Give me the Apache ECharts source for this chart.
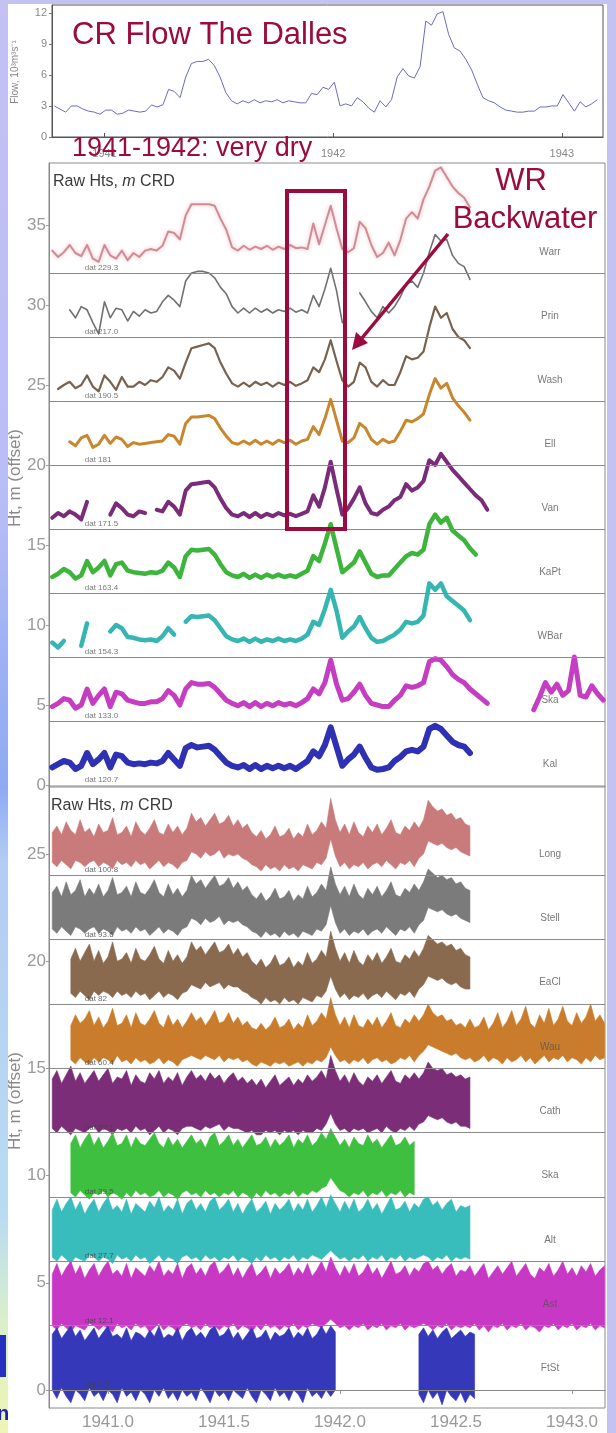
<!DOCTYPE html>
<html><head><meta charset="utf-8">
<script src="https://cdn.jsdelivr.net/npm/echarts@6/dist/echarts.min.js"></script>
<style>html,body{margin:0;padding:0;background:#c4c1f3;overflow:hidden}#c{width:616px;height:1433px}</style>
</head><body><div id="c"></div>
<script>
// ---------- DATA ----------
// Top panel: Columbia River flow at The Dalles (10^3 m^3/s), sampled every 0.025 yr
const flowStart = 1940.78, flowStep = 0.025;
const flowValues = [3.0,2.7,2.4,3.0,3.0,2.7,2.5,2.4,2.2,2.6,2.6,2.2,2.3,2.6,2.5,2.4,2.5,3.1,2.9,3.1,4.6,4.4,3.8,5.8,7.1,7.3,7.3,7.5,6.9,5.8,4.3,3.5,3.2,3.5,3.3,3.6,3.3,3.5,3.4,3.6,3.3,3.5,3.4,3.3,3.3,4.2,4.1,4.8,4.6,5.3,3.0,3.2,3.0,3.8,3.4,2.8,2.4,3.5,2.9,3.6,5.8,6.6,5.9,5.7,6.8,11.2,10.8,11.9,12.1,9.9,8.6,8.3,7.5,6.5,5.1,3.8,3.5,3.3,2.9,2.6,2.5,2.4,2.4,2.5,2.5,2.9,2.9,3.0,3.0,4.1,3.3,2.5,3.4,2.9,3.2,3.6];
const flowTicks = [1941, 1942, 1943];
const flowYTicks = [0, 3, 6, 9, 12];

// Middle panel: heights (m, offset), sampled every 0.025 yr
const midStart = 1940.76, midStep = 0.025;
const warr = [33.4,33.0,33.3,33.75,33.25,33.05,33.75,32.9,32.7,33.75,33.1,32.9,33.4,32.8,33.25,33.0,33.4,33.5,33.4,33.7,34.6,34.5,34.1,35.6,36.3,36.3,36.3,36.3,36.2,35.4,34.7,33.6,33.4,33.7,33.45,33.65,33.5,33.7,33.45,33.65,33.5,33.75,33.55,33.6,33.5,35.1,33.8,35.0,36.2,34.8,33.5,33.3,33.55,35.2,34.8,33.75,33.0,33.25,33.9,33.1,34.06,35.4,35.8,35.4,36.6,37.4,38.4,38.6,38.0,37.4,37.0,36.7,36.1];
const prin = [null,null,null,29.7,29.2,29.9,29.7,28.9,28.2,30.2,29.2,29.8,29.7,29.0,29.6,29.3,29.7,29.5,29.6,30.2,30.6,30.3,29.9,31.5,32.0,32.1,32.1,32.0,31.7,31.1,30.7,29.9,29.5,29.8,29.5,29.8,29.55,29.75,29.5,29.7,29.6,29.8,29.55,29.7,29.5,30.6,29.9,31.0,32.3,30.9,28.9,null,null,30.75,30.2,29.6,29.2,29.9,29.5,29.9,30.5,31.3,31.5,31.1,32.0,33.3,34.4,34.0,34.1,33.1,32.6,32.4,31.6];
const wash = [null,24.75,25.0,25.2,24.8,25.0,25.6,24.9,24.6,25.6,25.2,24.7,25.5,24.9,24.9,25.2,25.0,25.3,25.2,25.5,26.1,25.9,25.4,26.4,27.3,27.4,27.5,27.6,27.3,26.4,25.7,25.1,24.9,25.15,24.9,25.2,25.0,25.15,24.9,25.15,25.0,25.2,24.95,25.1,25.3,26.1,25.8,26.6,27.8,26.5,25.3,24.9,25.2,26.4,26.1,25.2,24.9,25.3,25.0,25.0,25.8,26.8,26.6,26.7,27.1,28.6,29.9,29.2,29.5,28.5,28.0,27.8,27.3];
const ell = [null,null,null,21.45,21.2,21.7,21.85,21.1,21.3,21.85,21.35,21.75,21.6,21.15,21.4,21.3,21.35,21.4,21.45,21.5,21.9,21.8,21.3,22.6,23.0,23.0,23.05,23.1,22.9,22.3,21.8,21.4,21.3,21.5,21.3,21.55,21.3,21.5,21.3,21.55,21.4,21.55,21.3,21.5,21.6,22.4,21.9,22.9,24.1,22.8,21.5,21.4,21.7,22.6,22.3,21.6,21.3,21.6,21.4,21.5,22.1,22.8,22.7,22.9,23.2,24.4,25.4,24.8,25.1,24.2,23.7,23.3,22.8];
const van = [16.7,17.0,16.8,17.1,16.9,16.6,17.7,null,null,null,16.9,17.6,17.3,16.9,16.8,17.1,17.0,null,17.2,17.1,17.7,17.4,16.9,18.4,18.8,18.85,18.9,18.95,18.6,17.9,17.3,16.9,16.8,17.0,16.75,17.0,16.75,16.95,16.8,17.0,16.85,16.95,16.8,16.95,17.1,18.1,17.4,18.6,20.2,18.5,16.9,17.3,17.9,18.6,17.6,17.0,16.9,17.2,17.4,17.8,18.0,18.8,18.4,18.6,19.0,20.3,20.0,20.7,20.2,19.7,19.3,18.9,18.5,18.1,17.8,17.2];
const kapt = [13.0,13.2,13.5,13.3,12.9,13.1,14.0,13.3,13.6,14.0,13.1,13.8,13.9,13.4,13.3,13.25,13.2,13.3,13.25,13.4,13.9,13.6,13.0,14.3,14.7,14.65,14.7,14.75,14.4,13.8,13.3,13.1,13.0,13.2,12.95,13.15,12.95,13.15,13.0,13.15,13.0,13.1,13.0,13.2,13.4,14.3,14.0,15.1,16.3,14.8,13.3,13.6,13.9,14.6,13.9,13.2,13.0,13.1,13.1,13.5,13.9,14.3,14.5,14.4,14.7,16.3,16.9,16.4,16.7,15.9,15.6,15.3,14.8,14.4];
const wbar = [8.9,8.6,9.0,null,null,8.7,10.1,null,null,null,9.6,10.0,9.8,9.25,9.2,9.1,9.05,9.1,9.0,9.3,9.8,9.4,null,10.2,10.55,10.5,10.55,10.6,10.3,9.8,9.3,9.1,9.0,9.15,8.95,9.15,8.95,9.1,9.0,9.15,9.0,9.1,9.0,9.15,9.4,10.2,10.0,11.0,12.2,10.9,9.2,9.6,9.9,10.5,9.8,9.2,8.95,9.0,9.2,9.4,9.7,10.2,10.1,10.2,10.6,12.6,12.2,12.6,11.8,11.5,11.2,10.9,10.3];
const skaMid = [4.9,5.1,5.4,5.3,4.8,5.0,6.0,5.1,5.6,6.0,4.9,5.8,5.7,5.3,5.2,5.1,5.1,5.2,5.2,5.4,5.9,5.6,5.0,6.0,6.4,6.3,6.3,6.35,6.1,5.7,5.3,5.1,4.95,5.15,4.9,5.15,4.9,5.1,4.95,5.15,5.0,5.1,4.95,5.15,5.4,6.0,5.7,6.4,7.8,6.3,5.3,5.4,5.8,6.3,5.6,5.1,5.0,4.9,4.9,5.3,5.6,6.2,6.1,6.2,6.4,7.7,7.9,7.8,7.4,6.9,6.6,6.4,6.0,5.7,5.4,5.1,null,null,null,null,null,null,null,4.7,5.5,6.4,5.8,6.3,5.6,5.9,8.0,5.6,5.5,6.2,5.7,5.3];
const kal = [1.1,1.3,1.5,1.4,1.0,1.2,2.0,1.3,1.6,2.0,1.1,1.9,1.8,1.4,1.3,1.35,1.3,1.4,1.35,1.5,2.0,1.6,1.2,2.3,2.5,2.35,2.4,2.45,2.2,1.8,1.4,1.2,1.1,1.25,1.0,1.25,1.0,1.2,1.05,1.2,1.05,1.2,1.0,1.25,1.5,2.1,1.8,2.5,3.6,2.4,1.2,1.6,1.9,2.4,1.7,1.1,0.95,1.0,1.1,1.5,1.75,2.1,2.2,2.1,2.4,3.5,3.7,3.5,3.1,2.7,2.5,2.4,2.0];
const midNames = ['Warr','Prin','Wash','Ell','Van','KaPt','WBar','Ska','Kal'];
const midDatums = ['dat 229.3','dat 217.0','dat 190.5','dat 181','dat 171.5','dat 163.4','dat 154.3','dat 133.0','dat 120.7'];
const midBase = [32,28,24,20,16,12,8,4,0];
const midYTicks = [0,5,10,15,20,25,30,35];

// Bottom panel: raw tidal heights, upper / lower envelopes, sampled every 0.02 yr
const lowStart = 1940.76, lowStep = 0.02;
const longHi = [26.0,26.3,25.9,26.5,26.1,25.9,26.6,26.0,26.2,25.8, 26.4,26.0,26.1,26.7,25.9,26.0,26.3,25.8,26.5,26.1, 25.9,26.2,26.6,26.0,25.9,26.4,26.0,26.3,25.9,26.2, 26.9,26.5,26.7,26.3,26.6,26.9,26.4,26.5,26.8,26.3, 26.6,26.2,26.4,26.0,25.8,26.1,25.7,25.9,26.3,25.8, 25.9,26.2,25.7,26.0,25.8,26.4,25.9,26.1,26.5,26.2, 27.6,26.6,26.0,26.4,25.9,26.5,26.0,25.8,26.3,26.0, 26.4,25.9,26.2,26.6,26.0,25.9,26.3,26.1,26.5,26.2, 26.6,27.5,27.2,27.0,27.1,26.8,26.9,26.6,26.7,26.4, 26.3];
const longLo = [24.6,24.4,24.7,24.5,24.3,24.7,24.6,24.4,24.6,24.7, 24.4,24.6,24.5,24.3,24.7,24.5,24.6,24.4,24.7,24.5, 24.6,24.3,24.5,24.7,24.4,24.6,24.5,24.3,24.6,24.7, 25.1,25.0,24.8,25.1,24.9,25.0,25.2,24.8,25.0,24.9, 25.0,24.8,24.7,24.5,24.4,24.2,24.5,24.3,24.4,24.2, 24.5,24.3,24.4,24.2,24.5,24.4,24.3,24.6,24.5,24.8, 25.7,24.9,24.4,24.6,24.3,24.5,24.4,24.6,24.3,24.5, 24.6,24.4,24.7,24.5,24.3,24.6,24.5,24.7,24.4,24.8, 25.0,25.6,25.5,25.4,25.5,25.3,25.2,25.3,25.1,25.0, 24.9];
const stellHi = [23.2,23.5,23.0,23.7,23.1,23.3,23.8,23.0,23.4,23.1, 23.6,23.0,23.3,23.9,23.1,23.2,23.5,23.0,23.7,23.2, 23.1,23.4,23.8,23.2,23.0,23.6,23.1,23.4,23.0,23.3, 24.0,23.6,23.8,23.4,23.7,24.0,23.5,23.6,23.9,23.4, 23.7,23.3,23.5,23.1,22.9,23.2,22.8,23.0,23.4,22.9, 23.0,23.3,22.8,23.1,22.9,23.5,23.0,23.2,23.6,23.3, 24.4,23.6,23.1,23.5,23.0,23.6,23.1,22.9,23.4,23.1, 23.5,23.0,23.3,23.7,23.1,23.0,23.4,23.2,23.6,23.3, 23.7,24.3,24.1,23.9,24.0,23.8,23.9,23.6,23.7,23.4, 23.3];
const stellLo = [21.5,21.3,21.6,21.4,21.2,21.6,21.5,21.3,21.5,21.6, 21.3,21.5,21.4,21.2,21.6,21.4,21.5,21.3,21.6,21.4, 21.5,21.2,21.4,21.6,21.3,21.5,21.4,21.2,21.5,21.6, 22.0,21.9,21.7,22.0,21.8,21.9,22.1,21.7,21.9,21.8, 21.9,21.7,21.6,21.4,21.3,21.1,21.4,21.2,21.3,21.1, 21.4,21.2,21.3,21.1,21.4,21.3,21.2,21.5,21.4,21.7, 22.6,21.8,21.3,21.5,21.2,21.4,21.3,21.5,21.2,21.4, 21.5,21.3,21.6,21.4,21.2,21.5,21.4,21.6,21.3,21.7, 21.9,22.5,22.4,22.3,22.4,22.2,22.1,22.2,22.0,21.9, 21.8];
const eaclHi = [null,null,null,null,20.1,20.6,20.0,20.4,20.8,20.0, 20.5,19.9,20.2,20.9,20.0,20.1,20.4,19.9,20.6,20.1, 20.0,20.3,20.7,20.1,19.9,20.5,20.0,20.3,19.9,20.2, 20.9,20.5,20.7,20.3,20.6,20.9,20.4,20.5,20.8,20.3, 20.6,20.2,20.4,20.0,19.8,20.1,19.7,19.9,20.3,19.8, 19.9,20.2,19.7,20.0,19.8,20.4,19.9,20.1,20.5,20.2, 21.4,20.6,20.0,20.4,19.9,20.5,20.0,19.8,20.3,20.0, 20.4,19.9,20.2,20.6,20.0,19.9,20.3,20.1,20.5,20.2, 20.6,21.2,21.0,20.8,20.9,20.7,20.8,20.5,20.6,20.3, 20.2];
const eaclLo = [null,null,null,null,18.5,18.3,18.6,18.4,18.2,18.6, 18.4,18.6,18.5,18.3,18.6,18.4,18.5,18.3,18.6,18.4, 18.5,18.2,18.4,18.6,18.3,18.5,18.4,18.2,18.5,18.6, 18.9,18.8,18.7,19.0,18.8,18.9,19.0,18.7,18.9,18.8, 18.8,18.6,18.5,18.3,18.2,18.0,18.3,18.1,18.2,18.0, 18.3,18.1,18.2,18.0,18.3,18.2,18.1,18.4,18.3,18.6, 19.3,18.7,18.3,18.5,18.2,18.4,18.3,18.5,18.2,18.4, 18.5,18.3,18.6,18.4,18.2,18.5,18.4,18.6,18.3,18.7, 18.9,19.3,19.2,19.1,19.2,19.0,18.9,19.0,18.8,18.7, 18.7];
const wauHi = [null,null,null,null,17.0,17.5,17.1,17.3,17.7,17.0, 17.4,16.9,17.2,17.8,17.0,17.1,17.5,16.9,17.6,17.1, 17.0,17.3,17.7,17.1,16.9,17.5,17.0,17.3,16.9,17.2, 17.6,17.2,17.4,17.0,17.3,17.7,17.1,17.2,17.6,17.1, 17.4,17.0,17.2,16.9,16.8,17.1,16.8,17.0,17.4,16.9, 17.0,17.3,16.8,17.1,16.9,17.5,17.0,17.2,17.6,17.3, 18.3,17.5,17.0,17.4,16.9,17.5,17.0,16.9,17.3,17.0, 17.4,16.9,17.2,17.6,17.0,16.9,17.3,17.1,17.5,17.2, 17.5,18.0,17.6,17.4,17.5,17.2,17.3,17.0,17.1,16.9, 17.3,16.9,17.0,17.4,16.8,17.1,17.6,16.9,17.2,17.7, 17.0,17.3,17.9,17.1,16.9,17.5,17.1,17.8,17.0,17.3, 17.9,17.2,17.0,17.6,17.1,17.4,18.0,17.2,17.5,17.1];
const wauLo = [null,null,null,null,15.4,15.2,15.5,15.3,15.2,15.5, 15.3,15.5,15.4,15.2,15.6,15.3,15.4,15.2,15.5,15.3, 15.4,15.2,15.3,15.5,15.2,15.4,15.3,15.1,15.4,15.5, 15.6,15.5,15.4,15.6,15.5,15.4,15.6,15.3,15.5,15.4, 15.5,15.3,15.4,15.2,15.1,15.3,15.2,15.1,15.3,15.2, 15.3,15.1,15.2,15.3,15.1,15.3,15.2,15.4,15.3,15.5, 16.0,15.6,15.3,15.4,15.2,15.4,15.3,15.5,15.2,15.4, 15.5,15.3,15.4,15.2,15.3,15.5,15.4,15.6,15.3,15.6, 15.8,16.1,16.0,15.9,15.8,15.7,15.6,15.7,15.5,15.4, 15.5,15.3,15.4,15.6,15.3,15.5,15.4,15.2,15.5,15.3, 15.4,15.6,15.3,15.5,15.2,15.4,15.6,15.3,15.5,15.4, 15.6,15.3,15.5,15.4,15.2,15.5,15.3,15.6,15.4,15.5];
const cathHi = [14.5,14.9,14.3,14.7,15.1,14.4,14.8,14.3,14.6,14.9, 14.4,14.7,15.0,14.3,14.6,14.5,14.9,14.2,14.7,14.4, 14.3,14.8,14.5,14.9,14.3,14.6,14.4,14.8,14.2,14.6, 14.9,14.5,14.7,14.4,14.8,14.5,14.7,14.3,14.6,14.8, 14.4,14.6,14.3,14.5,14.2,14.5,14.1,14.4,14.7,14.2, 14.4,14.6,14.2,14.5,14.3,14.7,14.4,14.6,14.9,14.5, 15.6,14.9,14.4,14.7,14.3,14.8,14.4,14.2,14.6,14.4, 14.7,14.3,14.6,14.9,14.4,14.3,14.7,14.5,14.8,14.5, 14.8,15.3,15.0,14.9,15.0,14.7,14.8,14.6,14.7,14.5, 14.6];
const cathLo = [12.2,12.0,12.3,12.1,11.9,12.2,12.1,12.0,12.2,12.3, 12.0,12.2,12.1,11.9,12.2,12.1,12.2,12.0,12.3,12.1, 12.2,11.9,12.1,12.3,12.0,12.2,12.1,11.9,12.2,12.3, 12.3,12.2,12.1,12.3,12.2,12.3,12.4,12.1,12.3,12.2, 12.2,12.1,12.0,12.1,11.9,11.9,12.1,12.0,12.1,11.9, 12.1,12.0,12.1,11.9,12.1,12.0,12.0,12.2,12.1,12.4, 12.9,12.4,12.1,12.2,12.0,12.2,12.1,12.2,12.0,12.1, 12.2,12.0,12.3,12.1,12.0,12.2,12.1,12.3,12.1,12.4, 12.5,12.8,12.7,12.6,12.7,12.5,12.4,12.5,12.3,12.3, 12.2];
const skaHi = [null,null,null,null,11.5,11.9,11.3,11.7,12.0,11.4, 11.8,11.3,11.6,12.0,11.4,11.5,11.9,11.3,11.8,11.5, 11.4,11.7,12.0,11.5,11.3,11.8,11.4,11.7,11.3,11.6, 11.9,11.5,11.7,11.3,11.8,12.0,11.4,11.6,11.9,11.4, 11.7,11.3,11.6,11.9,11.4,11.5,11.8,11.3,11.7,11.4, 11.6,11.9,11.3,11.7,11.5,11.9,11.4,11.6,12.0,11.7, 12.2,11.8,11.4,11.7,11.3,11.8,11.5,11.4,11.9,11.5, 11.7,11.3,11.6,11.9,11.4,11.5,11.8,11.4,11.6];
const skaLo = [null,null,null,null,9.2,9.0,9.3,9.1,8.9,9.2, 9.1,9.3,9.0,9.2,9.1,8.9,9.2,9.0,9.3,9.1, 9.2,9.0,9.1,9.3,9.0,9.2,9.1,8.9,9.2,9.3, 9.1,9.2,9.0,9.3,9.1,9.2,9.0,9.2,9.1,9.3, 9.0,9.2,9.1,8.9,9.2,9.0,9.3,9.1,9.2,9.0, 9.2,9.1,9.3,9.0,9.2,9.1,9.3,9.2,9.4,9.5, 9.9,9.6,9.3,9.2,9.0,9.2,9.1,9.3,9.0,9.2, 9.1,9.3,9.0,9.2,9.1,9.3,9.0,9.2,9.1];
const altHi = [8.4,8.9,8.3,8.7,9.0,8.4,8.8,8.2,8.6,8.9, 8.3,8.7,9.0,8.4,8.6,8.3,8.9,8.2,8.7,8.5, 8.3,8.8,8.5,9.0,8.3,8.6,8.4,8.9,8.2,8.7, 8.9,8.4,8.7,8.3,8.8,9.0,8.4,8.6,8.9,8.3, 8.7,8.2,8.6,8.9,8.3,8.5,8.8,8.2,8.7,8.4, 8.6,8.9,8.3,8.7,8.4,8.9,8.3,8.6,9.0,8.5, 9.1,8.7,8.3,8.8,8.4,8.9,8.3,8.5,8.9,8.4, 8.7,8.2,8.6,9.0,8.4,8.5,8.8,8.3,8.7,8.5, 8.9,9.0,8.6,8.8,8.4,8.7,8.9,8.3,8.6,8.5, 8.6];
const altLo = [6.2,6.0,6.3,6.1,5.9,6.2,6.1,6.0,6.3,6.2, 6.0,6.2,6.1,5.9,6.3,6.1,6.2,6.0,6.3,6.1, 6.2,5.9,6.1,6.3,6.0,6.2,6.1,5.9,6.2,6.3, 6.1,6.2,6.0,6.3,6.1,6.2,6.0,6.2,6.1,6.3, 6.0,6.2,6.1,5.9,6.2,6.0,6.3,6.1,6.2,6.0, 6.2,6.1,6.3,6.0,6.2,6.1,6.3,6.2,6.1,6.3, 6.5,6.3,6.1,6.2,6.0,6.2,6.1,6.3,6.0,6.2, 6.1,6.3,6.0,6.2,6.1,6.3,6.0,6.2,6.1,6.2, 6.3,6.2,6.0,6.2,6.1,6.3,6.0,6.2,6.1,6.2, 6.1];
const astHi = [5.4,5.9,5.3,5.7,6.0,5.4,5.8,5.2,5.6,5.9, 5.3,5.7,6.0,5.4,5.6,5.3,5.9,5.2,5.7,5.5, 5.3,5.8,5.5,6.0,5.3,5.6,5.4,5.9,5.2,5.7, 5.9,5.4,5.7,5.3,5.8,6.0,5.4,5.6,5.9,5.3, 5.7,5.2,5.6,5.9,5.3,5.5,5.8,5.2,5.7,5.4, 5.6,5.9,5.3,5.7,5.4,5.9,5.3,5.6,6.0,5.5, 6.2,5.7,5.3,5.8,5.4,5.9,5.3,5.5,5.9,5.4, 5.7,5.2,5.6,6.0,5.4,5.5,5.8,5.3,5.7,5.5, 5.9,6.0,5.6,5.8,5.4,5.7,5.9,5.3,5.6,5.5, 5.8,5.3,5.6,5.9,5.2,5.5,5.8,5.4,5.7,6.0, 5.3,5.6,5.9,5.4,5.2,5.7,5.5,5.9,5.3,5.6, 6.0,5.4,5.7,5.3,5.8,5.5,5.9,5.3,5.6,5.8];
const astLo = [3.0,2.8,3.1,2.9,2.7,3.0,2.9,2.8,3.1,3.0, 2.8,3.0,2.9,2.7,3.1,2.9,3.0,2.8,3.1,2.9, 3.0,2.7,2.9,3.1,2.8,3.0,2.9,2.7,3.0,3.1, 2.9,3.0,2.8,3.1,2.9,3.0,2.8,3.0,2.9,3.1, 2.8,3.0,2.9,2.7,3.0,2.8,3.1,2.9,3.0,2.8, 3.0,2.9,3.1,2.8,3.0,2.9,3.1,3.0,2.9,3.1, 3.3,3.1,2.9,3.0,2.8,3.0,2.9,3.1,2.8,3.0, 2.9,3.1,2.8,3.0,2.9,3.1,2.8,3.0,2.9,3.0, 3.1,3.0,2.8,3.0,2.9,3.1,2.8,3.0,2.9,3.0, 2.9,3.1,2.8,3.0,2.7,3.0,2.9,3.1,2.8,3.0, 2.9,3.1,2.8,3.0,2.9,2.7,3.0,2.9,3.1,2.8, 3.0,2.9,3.1,2.8,3.0,2.9,3.1,2.8,3.0,2.9];
const ftstHi = [2.6,2.9,2.4,2.7,3.0,2.5,2.8,2.3,2.6,2.9, 2.4,2.7,3.0,2.5,2.6,2.4,2.9,2.3,2.7,2.6, 2.4,2.8,2.5,3.0,2.4,2.6,2.5,2.9,2.3,2.7, 2.9,2.5,2.7,2.4,2.8,3.0,2.5,2.6,2.9,2.4, 2.7,2.3,2.6,2.9,2.4,2.5,2.8,2.3,2.7,2.5, 2.6,2.9,2.4,2.7,2.5,2.9,2.4,2.6,3.0,2.6, 3.0,2.7,null,null,null,null,null,null,null,null, null,null,null,null,null,null,null,null,null,2.6, 2.9,2.5,2.8,2.4,2.7,2.9,2.4,2.6,2.8,2.5, 2.7,2.6];
const ftstLo = [0.0,-0.4,0.1,-0.3,-0.6,0.0,-0.2,-0.5,0.1,-0.3, -0.1,-0.5,0.0,-0.2,-0.6,0.1,-0.3,-0.1,-0.5,0.0, -0.2,-0.6,0.0,-0.3,0.1,-0.4,-0.1,-0.5,0.0,-0.3, -0.1,-0.5,0.1,-0.2,-0.6,0.0,-0.3,-0.1,-0.5,0.0, -0.2,-0.4,0.1,-0.3,-0.6,0.0,-0.2,-0.5,0.1,-0.3, -0.1,-0.5,0.0,-0.2,-0.6,0.1,-0.3,-0.1,-0.4,0.0, -0.3,0.0,null,null,null,null,null,null,null,null, null,null,null,null,null,null,null,null,null,-0.2, -0.6,0.0,-0.4,-0.1,-0.7,0.0,-0.3,-0.5,-0.1,-0.6, -0.2,-0.4];
const lowNames = ['Long','Stell','EaCl','Wau','Cath','Ska','Alt','Ast','FtSt'];
const lowDatums = ['dat 100.8','dat 93.6','dat 82','dat 60.4','dat 52.1','dat 39.5','dat 27.7','dat 12.1','dat 4.3'];
const lowBase = [24,21,18,15,12,9,6,3,0];
const lowYTicks = [0,5,10,15,20,25];
const lowXTicks = [1941, 1941.5, 1942, 1942.5, 1943];

// ---------- STYLE ----------
const RED = '#9c0b3e';
const FONT = "'Liberation Sans', Arial, sans-serif";
const midColors = ['#cf8c94','#707070','#78624e','#c8862f','#7b2c78','#3db53d','#35b6b3','#c53dc0','#2f31b5'];
const midWidths = [2, 1.6, 2.2, 3, 4, 4.5, 4.5, 5, 6];
const lowColors = ['#c97a7a','#7b7b7b','#8a6a4f','#c97d2c','#7b2d78','#3fbf3f','#38bcbc','#c738c4','#3538b8'];
const labelYear = 1942.905, datumYear = 1940.90;

function pairs(start, step, arr) {
  return arr.map((v, i) => [+(start + i * step).toFixed(4), v]);
}

const midData = [warr, prin, wash, ell, van, kapt, wbar, skaMid, kal];
const lowHi = [longHi, stellHi, eaclHi, wauHi, cathHi, skaHi, altHi, astHi, ftstHi];
const lowLo = [longLo, stellLo, eaclLo, wauLo, cathLo, skaLo, altLo, astLo, ftstLo];

// band polygon drawn through the axis scales (api.coord)
function bandRender(k) {
  return function (params, api) {
    const hi = lowHi[k], lo = lowLo[k];
    const children = [];
    let seg = [];
    const flush = () => {
      if (seg.length > 1) {
        const top = seg.map(i => api.coord([lowStart + i * lowStep, hi[i]]));
        const bot = seg.slice().reverse().map(i => api.coord([lowStart + i * lowStep, lo[i]]));
        children.push({type:'polygon', shape:{points: top.concat(bot)},
          style:{fill: lowColors[k], stroke: lowColors[k], lineWidth: 0.6}});
      }
      seg = [];
    };
    for (let i = 0; i < hi.length; i++) {
      if (hi[i] == null || lo[i] == null) flush(); else seg.push(i);
    }
    flush();
    return {type:'group', children};
  };
}

const series = [];
series.push({type:'line', xAxisIndex:0, yAxisIndex:0, data:pairs(flowStart, flowStep, flowValues),
  symbol:'none', lineStyle:{color:'#6a6ac8', width:1}, z:3, silent:true});
midData.forEach((arr, k) => {
  series.push({type:'line', xAxisIndex:1, yAxisIndex:1, data:pairs(midStart, midStep, arr), symbol:'none',
    connectNulls:false, silent:true, z:3,
    lineStyle:{color:midColors[k], width:midWidths[k], join:'round', cap:'round',
      shadowColor: k === 0 ? 'rgba(235,160,170,0.7)' : 'rgba(0,0,0,0)', shadowBlur: k === 0 ? 4 : 0}});
});
series.push({type:'scatter', xAxisIndex:1, yAxisIndex:1, symbolSize:0, silent:true, z:6,
  data: midNames.map((n, i) => ({name:n, value:[labelYear, midBase[i] + 1.3]})),
  label:{show:true, formatter:'{b}', position:'inside', fontSize:10, color:'#555', fontFamily:FONT},
  markLine:{silent:true, symbol:['none','none'], label:{show:false}, z:5,
    lineStyle:{color:'#8a8a8a', width:1, type:'solid'}, data: midBase.slice(0, 8).map(v => ({yAxis:v}))}});
series.push({type:'scatter', xAxisIndex:1, yAxisIndex:1, symbolSize:0, silent:true, z:6,
  data: midDatums.map((n, i) => ({name:n, value:[datumYear, midBase[i] + 0.3]})),
  label:{show:true, formatter:'{b}', position:'right', distance:0, fontSize:8, color:'#555', fontFamily:FONT}});
lowNames.forEach((n, k) => {
  series.push({type:'custom', name:n, xAxisIndex:2, yAxisIndex:2, silent:true, z:3, clip:true,
    data:[[lowStart, lowBase[k]]], renderItem: bandRender(k)});
});
series.push({type:'scatter', xAxisIndex:2, yAxisIndex:2, symbolSize:0, silent:true, z:6,
  data: lowNames.map((n, i) => ({name:n, value:[labelYear, lowBase[i] + 1.0]})),
  label:{show:true, formatter:'{b}', position:'inside', fontSize:10, color:'#555', fontFamily:FONT},
  markLine:{silent:true, symbol:['none','none'], label:{show:false}, z:5,
    lineStyle:{color:'#8a8a8a', width:1, type:'solid'}, data: lowBase.map(v => ({yAxis:v}))}});
series.push({type:'scatter', xAxisIndex:2, yAxisIndex:2, symbolSize:0, silent:true, z:6,
  data: lowDatums.map((n, i) => ({name:n, value:[datumYear, lowBase[i] + 0.25]})),
  label:{show:true, formatter:'{b}', position:'right', distance:0, fontSize:8, color:'#444', fontFamily:FONT}});

const axisTxt = {fontFamily:FONT};
const option = {
  animation:false,
  backgroundColor:'#c4c1f3',
  grid:[
    {left:52, top:5, width:551, height:132, show:true, borderColor:'#555', borderWidth:1},
    {left:49, top:163, width:556, height:624, show:true, borderColor:'#8a8a8a', borderWidth:1},
    {left:49, top:786, width:556, height:622, show:true, borderColor:'#8a8a8a', borderWidth:1}
  ],
  xAxis:[
    {gridIndex:0, type:'value', min:1940.77, max:1943.18, splitLine:{show:false},
      axisLine:{lineStyle:{color:'#555'}},
      axisTick:{customValues:flowTicks, inside:true, length:4, lineStyle:{color:'#555'}},
      axisLabel:Object.assign({customValues:flowTicks, fontSize:11, color:'#888', margin:11, formatter:v => String(v)}, axisTxt)},
    {gridIndex:1, type:'value', min:1940.746, max:1943.142, show:false, splitLine:{show:false}},
    {gridIndex:2, type:'value', min:1940.746, max:1943.142, splitLine:{show:false},
      axisLine:{lineStyle:{color:'#777'}},
      axisTick:{customValues:lowXTicks, length:4, lineStyle:{color:'#999'}},
      axisLabel:Object.assign({customValues:lowXTicks, fontSize:17, color:'#999', margin:6, formatter:v => v.toFixed(1)}, axisTxt)}
  ],
  yAxis:[
    {gridIndex:0, type:'value', min:0, max:12.75, splitLine:{show:false},
      axisLine:{show:true, lineStyle:{color:'#555'}},
      axisTick:{show:true, customValues:flowYTicks, length:3, lineStyle:{color:'#777'}},
      axisLabel:Object.assign({customValues:flowYTicks, fontSize:11, color:'#888', margin:5}, axisTxt)},
    {gridIndex:1, type:'value', min:-0.125, max:38.875, splitLine:{show:false},
      axisLine:{show:true, lineStyle:{color:'#8a8a8a'}},
      axisTick:{show:true, customValues:midYTicks, length:3, lineStyle:{color:'#999'}},
      axisLabel:Object.assign({customValues:midYTicks, fontSize:17, color:'#9a9a9a', margin:3}, axisTxt)},
    {gridIndex:2, type:'value', min:-0.84, max:28.17, splitLine:{show:false},
      axisLine:{show:true, lineStyle:{color:'#8a8a8a'}},
      axisTick:{show:true, customValues:lowYTicks, length:3, lineStyle:{color:'#999'}},
      axisLabel:Object.assign({customValues:lowYTicks, fontSize:17, color:'#9a9a9a', margin:3}, axisTxt)}
  ],
  graphic:[
    {type:'rect', z:-10, silent:true, shape:{x:7, y:4, width:600, height:1429}, style:{fill:'#ffffff'}},
    {type:'rect', z:-9, silent:true, shape:{x:0, y:0, width:8, height:1433},
      style:{fill:new echarts.graphic.LinearGradient(0,0,0,1,[
        {offset:0, color:'#c4c1f3'},{offset:0.35, color:'#b9bdf6'},{offset:0.45, color:'#9fb2f5'},
        {offset:0.55, color:'#8eaaf3'},{offset:0.6, color:'#b2ccf4'},{offset:0.85, color:'#b9dcf2'},
        {offset:0.92, color:'#d9efcb'},{offset:1, color:'#eef5b4'}])}},
    {type:'rect', z:-8, silent:true, shape:{x:0, y:1335, width:6, height:42}, style:{fill:'#2430c0'}},
    {type:'text', z:50, silent:true, x:-3, y:1414, style:{text:'n', font:'bold 20px ' + FONT, fill:'#1a22b0', verticalAlign:'middle'}},
    {type:'text', z:50, silent:true, x:15, y:72, rotation:Math.PI/2,
      style:{text:'Flow, 10\u00b3m\u00b3s\u207b\u00b9', font:'10px ' + FONT, fill:'#888', align:'center', verticalAlign:'middle'}},
    {type:'text', z:50, silent:true, x:15, y:478, rotation:Math.PI/2,
      style:{text:'Ht, m (offset)', font:'17px ' + FONT, fill:'#8a8a8a', align:'center', verticalAlign:'middle'}},
    {type:'text', z:50, silent:true, x:15, y:1101, rotation:Math.PI/2,
      style:{text:'Ht, m (offset)', font:'17px ' + FONT, fill:'#8a8a8a', align:'center', verticalAlign:'middle'}},
    {type:'text', z:50, silent:true, x:53, y:182,
      style:{text:'{a|Raw Hts, }{b|m}{a| CRD}', verticalAlign:'middle',
        rich:{a:{fontSize:16, fontFamily:FONT, fill:'#3a3a3a', color:'#3a3a3a'}, b:{fontSize:16, fontFamily:FONT, fontStyle:'italic', fill:'#3a3a3a', color:'#3a3a3a'}}}},
    {type:'text', z:50, silent:true, x:51, y:806,
      style:{text:'{a|Raw Hts, }{b|m}{a| CRD}', verticalAlign:'middle',
        rich:{a:{fontSize:16, fontFamily:FONT, fill:'#3a3a3a', color:'#3a3a3a'}, b:{fontSize:16, fontFamily:FONT, fontStyle:'italic', fill:'#3a3a3a', color:'#3a3a3a'}}}},
    {type:'text', z:60, silent:true, x:72, y:35,
      style:{text:'CR Flow The Dalles', font:'31px ' + FONT, fill:RED, verticalAlign:'middle'}},
    {type:'text', z:60, silent:true, x:72, y:149,
      style:{text:'1941-1942: very dry', font:'27px ' + FONT, fill:RED, verticalAlign:'middle'}},
    {type:'text', z:60, silent:true, x:521, y:181,
      style:{text:'WR', font:'31px ' + FONT, fill:RED, align:'center', verticalAlign:'middle'}},
    {type:'text', z:60, silent:true, x:525, y:219,
      style:{text:'Backwater', font:'31px ' + FONT, fill:RED, align:'center', verticalAlign:'middle'}},
    {type:'rect', z:60, silent:true, shape:{x:287, y:191, width:58, height:338},
      style:{fill:'none', stroke:RED, lineWidth:4}},
    {type:'line', z:60, silent:true, shape:{x1:448, y1:234, x2:362, y2:338}, style:{stroke:RED, lineWidth:3.5}},
    {type:'polygon', z:60, silent:true, shape:{points:[[352,350],[368,343],[356,332]]}, style:{fill:RED}}
  ],
  series
};
const chart = echarts.init(document.getElementById('c'), null, {renderer:'canvas', width:616, height:1433});
chart.setOption(option);
</script></body></html>
